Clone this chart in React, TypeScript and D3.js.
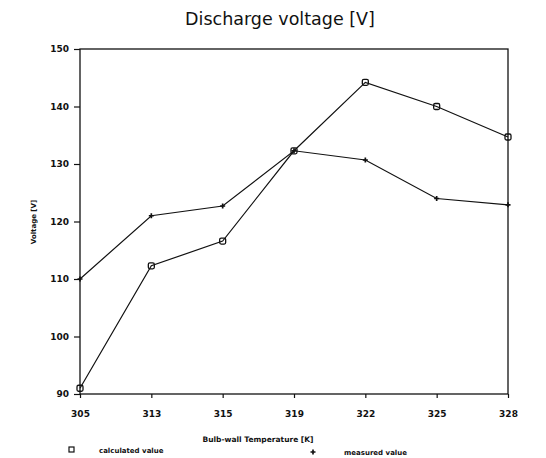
import React, { useRef, useEffect } from 'react';
import * as d3 from 'd3';

const temps = ['305', '313', '315', '319', '322', '325', '328'];
const calculated = [91, 112.3, 116.6, 132.3, 144.2, 140, 134.7];
const measured = [110, 121, 122.7, 132.3, 130.7, 124, 122.9];
const yTicks = [90, 100, 110, 120, 130, 140, 150];

const App = () => {
    const chartRef = useRef<SVGSVGElement>(null);

    useEffect(() => {
        const svg = d3.select(chartRef.current);
        svg.selectAll('*').remove();

        const left = 80, right = 508, top = 49, bottom = 394;
        const font = "'DejaVu Sans', sans-serif";

        const x = d3.scalePoint<string>().domain(temps).range([left, right]);
        const y = d3.scaleLinear().domain([90, 150]).range([bottom, top]);

        // frame
        svg.append('rect')
            .attr('x', left).attr('y', top)
            .attr('width', right - left).attr('height', bottom - top)
            .attr('fill', 'none').attr('stroke', '#111').attr('stroke-width', 1.3);

        // y axis
        const yAxis = svg.append('g')
            .attr('transform', `translate(${left},0)`)
            .call(d3.axisLeft(y).tickValues(yTicks).tickSize(6).tickPadding(5).tickFormat(d3.format('d')));
        yAxis.select('.domain').remove();

        // x axis
        const xAxis = svg.append('g')
            .attr('transform', `translate(0,${bottom})`)
            .call(d3.axisBottom(x).tickSize(4).tickPadding(13));
        xAxis.select('.domain').remove();

        svg.selectAll('.tick line').attr('stroke', '#111').attr('stroke-width', 1.2);
        svg.selectAll('.tick text')
            .attr('fill', '#111')
            .style('font-family', font)
            .style('font-size', '9px')
            .style('font-weight', 'bold');

        const line = d3.line<number>()
            .x((d, i) => x(temps[i]) as number)
            .y(d => y(d));

        [calculated, measured].forEach(series => {
            svg.append('path')
                .datum(series)
                .attr('fill', 'none')
                .attr('stroke', '#111')
                .attr('stroke-width', 1.2)
                .attr('d', line);
        });

        // calculated markers (squares)
        svg.append('g').selectAll('rect')
            .data(calculated)
            .join('rect')
            .attr('x', (d, i) => (x(temps[i]) as number) - 3)
            .attr('y', d => y(d) - 3)
            .attr('width', 6).attr('height', 6).attr('rx', 1.5)
            .attr('fill', 'none').attr('stroke', '#111').attr('stroke-width', 1.3);

        // measured markers (plus)
        const plus = d3.symbol().type(d3.symbolCross).size(14);
        svg.append('g').selectAll('path')
            .data(measured)
            .join('path')
            .attr('transform', (d, i) => `translate(${x(temps[i])},${y(d)})`)
            .attr('d', plus)
            .attr('fill', '#111');

        // title
        svg.append('text')
            .attr('x', 280).attr('y', 25)
            .attr('text-anchor', 'middle')
            .style('font-family', font).style('font-size', '17.5px')
            .attr('fill', '#111')
            .text('Discharge voltage [V]');

        // y label
        svg.append('text')
            .attr('transform', 'translate(36,222) rotate(-90)')
            .attr('text-anchor', 'middle')
            .style('font-family', font).style('font-size', '7px').style('font-weight', 'bold')
            .attr('fill', '#111')
            .text('Voltage [V]');

        // x label
        svg.append('text')
            .attr('x', 258).attr('y', 442)
            .attr('text-anchor', 'middle')
            .style('font-family', font).style('font-size', '7.5px').style('font-weight', 'bold')
            .attr('fill', '#111')
            .text('Bulb-wall Temperature [K]');

        // legend
        svg.append('rect')
            .attr('x', 69).attr('y', 447).attr('width', 5).attr('height', 5)
            .attr('fill', 'none').attr('stroke', '#111').attr('stroke-width', 1.2);
        svg.append('text')
            .attr('x', 99).attr('y', 453)
            .style('font-family', font).style('font-size', '7px').style('font-weight', 'bold')
            .attr('fill', '#111')
            .text('calculated value');
        svg.append('path')
            .attr('transform', 'translate(313,452)')
            .attr('d', plus)
            .attr('fill', '#111');
        svg.append('text')
            .attr('x', 344).attr('y', 455)
            .style('font-family', font).style('font-size', '7px').style('font-weight', 'bold')
            .attr('fill', '#111')
            .text('measured value');
    }, []);

    return (
        <svg ref={chartRef} width={546} height={458}
            style={{ position: 'absolute', left: 0, top: 0, background: '#fff' }} />
    );
};

export default App;
